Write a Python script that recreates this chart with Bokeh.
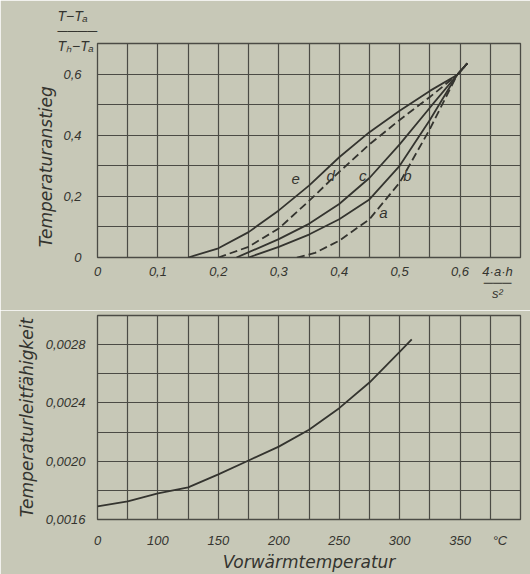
from bokeh.plotting import figure
from bokeh.layouts import column
from bokeh.models import FixedTicker, Title
from bokeh.core.properties import value
from bokeh.embed import file_html
from bokeh.resources import INLINE
import numpy as np

# ---------------- data: upper chart (Temperaturanstieg) ----------------
e_x = [0.15, 0.20, 0.25, 0.30, 0.35, 0.40, 0.45, 0.50, 0.55, 0.595, 0.612]
e_y = [0.0, 0.030, 0.083, 0.154, 0.235, 0.328, 0.410, 0.480, 0.545, 0.597, 0.635]
d_x = [0.20, 0.25, 0.30, 0.35, 0.40, 0.45, 0.50, 0.55, 0.595, 0.612]
d_y = [0.0, 0.035, 0.095, 0.185, 0.280, 0.370, 0.450, 0.525, 0.597, 0.635]
c_x = [0.23, 0.30, 0.35, 0.40, 0.45, 0.50, 0.55, 0.595, 0.612]
c_y = [0.0, 0.060, 0.110, 0.175, 0.260, 0.370, 0.490, 0.597, 0.635]
b_x = [0.25, 0.30, 0.35, 0.40, 0.45, 0.50, 0.55, 0.595, 0.612]
b_y = [0.0, 0.035, 0.075, 0.125, 0.190, 0.300, 0.450, 0.597, 0.635]
a_x = [0.33, 0.36, 0.40, 0.45, 0.50, 0.55, 0.595, 0.612]
a_y = [0.0, 0.015, 0.055, 0.125, 0.245, 0.420, 0.597, 0.635]

curve_names = ["a", "b", "c", "d", "e"]
curve_label_x = [0.473, 0.513, 0.439, 0.386, 0.328]
curve_label_y = [0.147, 0.268, 0.268, 0.268, 0.258]

top_x_ticks = [0, 0.1, 0.2, 0.3, 0.4, 0.5, 0.6, 0.662]
top_x_labels = ["0", "0,1", "0,2", "0,3", "0,4", "0,5", "0,6", "4·a·h\n───\ns²"]
top_y_ticks = [0, 0.2, 0.4, 0.6]
top_y_labels = ["0", "0,2", "0,4", "0,6"]
top_y_title = " T−Tₐ\n────\n Tₕ−Tₐ"
top_y_name = "Temperaturanstieg"

# ---------------- data: lower chart (Temperaturleitfähigkeit) ----------------
temp = [50, 75, 100, 125, 150, 175, 200, 225, 250, 275, 300, 310]
diffusivity = [0.00169, 0.001725, 0.00178, 0.00182, 0.00191, 0.002005,
               0.00210, 0.002216, 0.002364, 0.00254, 0.00275, 0.002836]

bot_x_ticks = [50, 100, 150, 200, 250, 300, 350, 383]
bot_x_labels = ["0", "100", "150", "200", "250", "300", "350", "°C"]
bot_y_ticks = [0.0016, 0.0020, 0.0024, 0.0028]
bot_y_labels = ["0,0016", "0,0020", "0,0024", "0,0028"]
bot_x_name = "Vorwärmtemperatur"
bot_y_name = "Temperaturleitfähigkeit"

# ---------------- style ----------------
BG = "#c7c8b7"
INK = "#34342f"
GRID = "#4b4b45"
FONT = "Liberation Sans"
TFONT = "DejaVu Sans"


def style_axis(ax, size="13px"):
    ax.axis_line_color = None
    ax.major_tick_line_color = None
    ax.minor_tick_line_color = None
    ax.major_label_text_font = FONT
    ax.major_label_text_font_style = "italic"
    ax.major_label_text_font_size = size
    ax.major_label_text_color = INK
    ax.axis_label_text_font = TFONT
    ax.axis_label_text_font_style = "italic"
    ax.axis_label_text_font_size = "17px"
    ax.axis_label_text_color = INK


def style(p):
    p.background_fill_color = BG
    p.border_fill_color = BG
    p.outline_line_color = GRID
    p.outline_line_width = 1.3
    for g in (p.xgrid[0], p.ygrid[0]):
        g.grid_line_color = GRID
        g.grid_line_width = 1.2
    style_axis(p.xaxis[0])
    style_axis(p.yaxis[0])


# ---------------- upper figure ----------------
title = Title(text=top_y_title, align="left", offset=-40, standoff=-22,
              text_font=FONT, text_font_style="italic", text_font_size="14px",
              text_color=INK, text_line_height=0.95)
p1 = figure(width=530, height=310, x_range=(0, 0.7), y_range=(0, 0.7),
            output_backend="svg", toolbar_location=None, title=title,
            min_border_left=97, min_border_right=10, min_border_top=43, min_border_bottom=53)
style(p1)
p1.xgrid[0].ticker = FixedTicker(ticks=list(np.round(np.arange(0, 0.701, 0.05), 3)))
p1.ygrid[0].ticker = FixedTicker(ticks=list(np.round(np.arange(0, 0.701, 0.1), 3)))
p1.xaxis[0].ticker = FixedTicker(ticks=top_x_ticks)
p1.xaxis[0].major_label_overrides = dict(zip(top_x_ticks, top_x_labels))
p1.xaxis[0].major_label_standoff = 0
p1.xaxis[0].major_label_text_line_height = 0.75
p1.yaxis[0].ticker = FixedTicker(ticks=top_y_ticks)
p1.yaxis[0].major_label_overrides = dict(zip(top_y_ticks, top_y_labels))
p1.yaxis[0].major_label_standoff = 10
p1.yaxis[0].axis_label = top_y_name + "\u00a0" * 6
p1.yaxis[0].axis_label_standoff = 4

for xs, ys, dash in [(e_x, e_y, "solid"), (d_x, d_y, "8 4"), (c_x, c_y, "solid"),
                     (b_x, b_y, "solid"), (a_x, a_y, "8 4")]:
    p1.line(xs, ys, line_color=INK, line_width=1.8, line_dash=dash)

p1.text(x=curve_label_x, y=curve_label_y, text=curve_names, text_font=value(FONT),
        text_font_style="italic", text_font_size="15px", text_color=INK,
        text_align="center", text_baseline="middle")

# ---------------- lower figure ----------------
p2 = figure(width=530, height=264, x_range=(50, 400), y_range=(0.0016, 0.0030),
            output_backend="svg", toolbar_location=None,
            min_border_left=97, min_border_right=10, min_border_top=5, min_border_bottom=45)
style(p2)
p2.xgrid[0].ticker = FixedTicker(ticks=list(np.arange(50, 401, 25)))
p2.ygrid[0].ticker = FixedTicker(ticks=list(np.round(np.arange(0.0016, 0.00301, 0.0002), 5)))
p2.xaxis[0].ticker = FixedTicker(ticks=bot_x_ticks)
p2.xaxis[0].major_label_overrides = dict(zip(bot_x_ticks, bot_x_labels))
p2.xaxis[0].major_label_standoff = 7
p2.xaxis[0].axis_label = bot_x_name
p2.xaxis[0].axis_label_standoff = 1
p2.yaxis[0].ticker = FixedTicker(ticks=bot_y_ticks)
p2.yaxis[0].major_label_overrides = dict(zip(bot_y_ticks, bot_y_labels))
p2.yaxis[0].major_label_standoff = 6
p2.yaxis[0].axis_label = bot_y_name
p2.yaxis[0].axis_label_standoff = 6

p2.line(temp, diffusivity, line_color=INK, line_width=1.8)

layout = column(p1, p2, spacing=0)
open("out.html", "w").write(file_html(layout, INLINE))
